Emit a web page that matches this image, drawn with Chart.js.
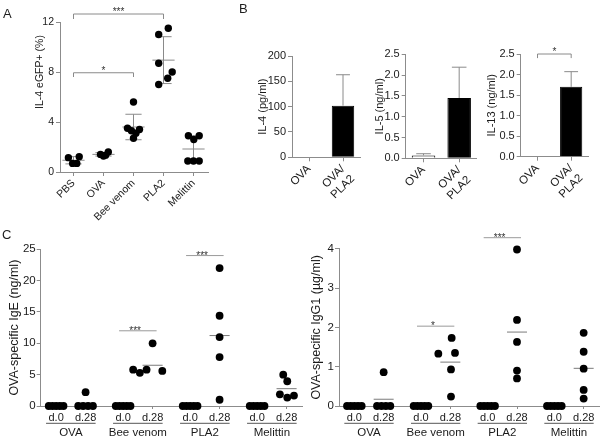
<!DOCTYPE html>
<html><head><meta charset="utf-8">
<script src="https://cdn.jsdelivr.net/npm/chart.js@4.4.1/dist/chart.umd.min.js"></script>
<style>
html,body{margin:0;padding:0;background:#fff;}
#wrap{position:relative;width:604px;height:439px;overflow:hidden;background:#fff;}
#wrap canvas{position:absolute;left:0;top:0;}
.pl{position:absolute;font-family:'Liberation Sans',Arial,sans-serif;font-size:13px;line-height:13px;color:#1e1e1e;}
</style></head>
<body><div id="wrap">
<canvas id="cA" width="604" height="439"></canvas>
<canvas id="cB1" width="604" height="439"></canvas>
<canvas id="cB2" width="604" height="439"></canvas>
<canvas id="cB3" width="604" height="439"></canvas>
<canvas id="cC1" width="604" height="439"></canvas>
<canvas id="cC2" width="604" height="439"></canvas>
<div class="pl" style="left:3px;top:7px">A</div>
<div class="pl" style="left:239px;top:2px">B</div>
<div class="pl" style="left:2px;top:228px">C</div>
</div>
<script>
// ---------------- DATA ----------------
// Panel A
const catA = ['PBS', 'OVA', 'Bee venom', 'PLA2', 'Melittin'];
const valsA = [
  [1.15, 1.23, 0.69, 0.69],
  [1.41, 1.28, 1.35, 1.60],
  [5.6, 3.5, 3.4, 3.3, 3.1, 2.7],
  [11.0, 11.5, 8.7, 8.0, 7.5, 7.0],
  [2.9, 2.9, 2.6, 0.88, 0.88, 0.88]
];
const jitA = [
  [-0.17, 0.19, -0.03, 0.11],
  [-0.10, 0.00, 0.07, 0.16],
  [0.00, -0.20, 0.20, -0.07, 0.08, 0.00],
  [-0.16, 0.16, -0.16, 0.29, 0.14, -0.16],
  [-0.17, 0.19, 0.01, -0.19, 0.00, 0.19]
];
const sigA = [
  {from: 0, to: 3, y: 12.64, drop: 0.4, label: '***'},
  {from: 0, to: 2, y: 7.94, drop: 0.34, label: '*'}
];
// Panel B
const catB = ['OVA', ['OVA/', 'PLA2']];
const il4Mean = [0, 102];
const il4SD = [0, 61];
const il5Mean = [0.07, 1.45];
const il5SD = [0.04, 0.74];
const il13Mean = [0, 1.70];
const il13SD = [0, 0.37];
const sigB13 = {from: 0, to: 1, y: 2.5, drop: 0.1, label: '*'};
// Panel C
const groupsC = ['OVA', 'Bee venom', 'PLA2', 'Melittin'];
const daysC = ['d.0', 'd.28'];
const jit0C = [-0.11, -0.055, 0, 0.055, 0.11];
const igE_d0 = [[0,0,0,0,0],[0,0,0,0,0],[0,0,0,0,0],[0,0,0,0,0]];
const igE_d28 = [
  [2.2, 0, 0, 0, 0],
  [10.0, 5.8, 5.3, 5.8, 5.6],
  [22.0, 14.4, 11.0, 7.8, 1.0],
  [5.0, 3.95, 1.87, 1.34, 1.66]
];
const igE_jit28 = [
  [0, -0.11, -0.037, 0.037, 0.11],
  [0, -0.29, -0.19, -0.09, 0.145],
  [0, 0, 0, 0, 0],
  [-0.05, 0.01, -0.10, 0.01, 0.11]
];
const sigCE = [{g: 1, y: 12.0, label: '***'}, {g: 2, y: 24.0, label: '***'}];
const igG_d0 = [[0,0,0,0,0],[0,0,0,0,0],[0,0,0,0,0],[0,0,0,0,0]];
const igG_d28 = [
  [0.86, 0, 0, 0, 0],
  [1.73, 1.33, 1.35, 0.93, 0.24],
  [3.98, 2.19, 1.63, 0.90, 0.70],
  [1.86, 1.38, 0.95, 0.41, 0.19]
];
const igG_jit28 = [
  [0, -0.10, -0.033, 0.033, 0.10],
  [0.02, -0.18, 0.07, 0.01, 0.01],
  [0, 0, 0, 0, 0],
  [0, 0, 0, 0, 0]
];
const sigCG = [{g: 1, y: 2.03, label: '*'}, {g: 2, y: 4.28, label: '***'}];

// ---------------- STYLE / HELPERS ----------------
const W = 604, H = 439;
const AX = '#8c8c8c', LN = '#8a8a8a', TX = '#1a1a1a';
const FONT = "'Liberation Sans', Arial, Helvetica, sans-serif";
const DAY = 0.22;
Chart.defaults.font.family = FONT;
Chart.defaults.font.size = 10;
Chart.defaults.color = TX;
Chart.defaults.animation = false;
Chart.defaults.responsive = false;
Chart.defaults.events = [];
Chart.defaults.plugins.legend.display = false;
Chart.defaults.plugins.tooltip.enabled = false;

function frame(a, yw, xh) {
  return {padding: {left: a.l - yw, top: a.t, right: W - a.r, bottom: H - a.b - xh}};
}
function gridOpts(len) { return {drawOnChartArea: false, drawTicks: true, tickLength: len, color: AX, lineWidth: 1}; }
function borderOpts() { return {display: true, color: AX, width: 1}; }
function mean(a) { return a.reduce((s, v) => s + v, 0) / a.length; }
function sd(a) { const m = mean(a); return Math.sqrt(a.reduce((s, v) => s + (v - m) * (v - m), 0) / (a.length - 1)); }
function seg(ctx, x0, y0, x1, y1) { ctx.beginPath(); ctx.moveTo(x0, y0); ctx.lineTo(x1, y1); ctx.stroke(); }
function starText(ctx, x, y, label) {
  ctx.save(); ctx.fillStyle = '#333'; ctx.font = '10px ' + FONT;
  ctx.textAlign = 'center'; ctx.textBaseline = 'alphabetic'; ctx.fillText(label, x, y); ctx.restore();
}

// ---------------- PANEL A ----------------
const ptsA = [];
valsA.forEach((arr, i) => arr.forEach((v, j) => ptsA.push({x: i + jitA[i][j], y: v})));
const plugA = {
  id: 'plugA',
  beforeDatasetsDraw(chart) {
    const ctx = chart.ctx, x = chart.scales.x, y = chart.scales.y;
    ctx.save(); ctx.strokeStyle = LN; ctx.lineWidth = 1;
    valsA.forEach((arr, i) => {
      const m = mean(arr), s = sd(arr), cx = x.getPixelForValue(i);
      const hw = x.getPixelForValue(i + 0.37) - cx, cw = x.getPixelForValue(i + 0.27) - cx;
      const yT = y.getPixelForValue(m + s), yB = y.getPixelForValue(m - s), yM = y.getPixelForValue(m);
      seg(ctx, cx, yT, cx, yB); seg(ctx, cx - cw, yT, cx + cw, yT); seg(ctx, cx - cw, yB, cx + cw, yB);
      seg(ctx, cx - hw, yM, cx + hw, yM);
    });
    ctx.restore();
  },
  afterDraw(chart) {
    const ctx = chart.ctx, x = chart.scales.x, y = chart.scales.y;
    ctx.save(); ctx.strokeStyle = LN; ctx.lineWidth = 1;
    sigA.forEach(b => {
      const x0 = x.getPixelForValue(b.from), x1 = x.getPixelForValue(b.to);
      const yy = y.getPixelForValue(b.y), yd = y.getPixelForValue(b.y - b.drop);
      ctx.beginPath(); ctx.moveTo(x0, yd); ctx.lineTo(x0, yy); ctx.lineTo(x1, yy); ctx.lineTo(x1, yd); ctx.stroke();
      starText(ctx, (x0 + x1) / 2, yy + 1, b.label);
    });
    ctx.translate(chart.chartArea.left - 20, y.getPixelForValue(8));
    ctx.rotate(-Math.PI / 2);
    ctx.font = '10.5px ' + FONT; ctx.fillStyle = TX; ctx.textAlign = 'center'; ctx.textBaseline = 'middle';
    ctx.fillText('IL-4 eGFP+ (%)', 0, 0);
    ctx.restore();
  }
};
new Chart(document.getElementById('cA'), {
  type: 'scatter',
  data: {datasets: [{data: ptsA, pointRadius: 3.7, pointHoverRadius: 3.7, pointBackgroundColor: '#000', pointBorderWidth: 0, clip: false}]},
  options: {
    layout: frame({l: 60, t: 22, r: 208.5, b: 172}, 26, 60),
    scales: {
      x: {type: 'linear', min: -0.45, max: 4.5,
        afterBuildTicks: s => { s.ticks = catA.map((c, i) => ({value: i})); },
        afterFit: s => { s.height = 60; },
        ticks: {autoSkip: false, minRotation: 45, maxRotation: 45, padding: 1, font: {size: 10.5}, callback: (v, i) => catA[i]},
        grid: gridOpts(4), border: borderOpts()},
      y: {min: 0, max: 12, afterFit: s => { s.width = 26; },
        ticks: {stepSize: 4, padding: 2, font: {size: 10.5}},
        grid: gridOpts(4), border: borderOpts()}
    }
  },
  plugins: [plugA]
});

// ---------------- PANEL B ----------------
function makeBar(id, area, yw, title, means, sds, yMax, step, dec, sig) {
  const plug = {
    id: 'err' + id,
    afterDatasetsDraw(chart) {
      const ctx = chart.ctx, x = chart.scales.x, y = chart.scales.y, meta = chart.getDatasetMeta(0);
      ctx.save(); ctx.strokeStyle = LN; ctx.lineWidth = 1;
      meta.data.forEach((bar, i) => {
        if (!sds[i]) return;
        const y0 = y.getPixelForValue(means[i]), y1 = y.getPixelForValue(means[i] + sds[i]);
        const cw = bar.width * 0.31;
        seg(ctx, bar.x, y0, bar.x, y1); seg(ctx, bar.x - cw, y1, bar.x + cw, y1);
      });
      if (sig) {
        const x0 = x.getPixelForValue(sig.from), x1 = x.getPixelForValue(sig.to);
        const yy = y.getPixelForValue(sig.y), yd = y.getPixelForValue(sig.y - sig.drop);
        ctx.beginPath(); ctx.moveTo(x0, yd); ctx.lineTo(x0, yy); ctx.lineTo(x1, yy); ctx.lineTo(x1, yd); ctx.stroke();
        starText(ctx, (x0 + x1) / 2, yy + 1, sig.label);
      }
      ctx.restore();
    }
  };
  new Chart(document.getElementById(id), {
    type: 'bar',
    data: {labels: catB, datasets: [{data: means, backgroundColor: ['#ffffff', '#000000'], borderColor: '#000', borderWidth: 1,
      barPercentage: 0.66, categoryPercentage: 1, borderSkipped: 'start', clip: false}]},
    options: {
      layout: frame(area, yw, 50),
      scales: {
        x: {offset: true, afterFit: s => { s.height = 50; },
          grid: Object.assign(gridOpts(4), {offset: false}), border: borderOpts(),
          ticks: {autoSkip: false, minRotation: 45, maxRotation: 45, padding: 1, font: {size: 11.5}}},
        y: {min: 0, max: yMax, afterFit: s => { s.width = yw; },
          ticks: {stepSize: step, padding: 2, font: {size: 11}, callback: v => Number(v).toFixed(dec)},
          grid: gridOpts(4), border: borderOpts(),
          title: {display: true, text: title, font: {size: 11}, padding: 0, color: TX}}
      }
    },
    plugins: [plug]
  });
}
makeBar('cB1', {l: 292, t: 56, r: 360, b: 157.3}, 35.9, 'IL-4 (pg/ml)', il4Mean, il4SD, 200, 50, 0, null);
makeBar('cB2', {l: 405.7, t: 54.3, r: 477, b: 158.3}, 32.3, 'IL-5 (ng/ml)', il5Mean, il5SD, 2.5, 0.5, 1, null);
makeBar('cB3', {l: 520.7, t: 54, r: 588, b: 156.7}, 35.3, 'IL-13 (ng/ml)', il13Mean, il13SD, 2.5, 0.5, 1, sigB13);

// ---------------- PANEL C ----------------
function makeDots(id, area, yw, title, d0, d28, jit28, yMax, step, sig) {
  const pts = [];
  groupsC.forEach((g, gi) => {
    d0[gi].forEach((v, j) => pts.push({x: gi - DAY + jit0C[j], y: v}));
    d28[gi].forEach((v, j) => pts.push({x: gi + DAY + jit28[gi][j], y: v}));
  });
  const plug = {
    id: 'dots' + id,
    beforeDatasetsDraw(chart) {
      const ctx = chart.ctx, x = chart.scales.x, y = chart.scales.y;
      ctx.save(); ctx.strokeStyle = '#7a7a7a'; ctx.lineWidth = 1;
      groupsC.forEach((g, gi) => {
        [[d0[gi], gi - DAY], [d28[gi], gi + DAY]].forEach(([arr, cxv]) => {
          const ym = y.getPixelForValue(mean(arr));
          seg(ctx, x.getPixelForValue(cxv - 0.15), ym, x.getPixelForValue(cxv + 0.15), ym);
        });
      });
      ctx.restore();
    },
    afterDraw(chart) {
      const ctx = chart.ctx, x = chart.scales.x, y = chart.scales.y;
      ctx.save(); ctx.lineWidth = 1;
      ctx.strokeStyle = '#9a9a9a';
      sig.forEach(s => {
        const yy = y.getPixelForValue(s.y);
        seg(ctx, x.getPixelForValue(s.g - 0.28), yy, x.getPixelForValue(s.g + 0.28), yy);
        starText(ctx, x.getPixelForValue(s.g - 0.04), yy + 3, s.label);
      });
      ctx.strokeStyle = '#555';
      const yu = x.bottom;
      groupsC.forEach((g, gi) => seg(ctx, x.getPixelForValue(gi - 0.37), yu, x.getPixelForValue(gi + 0.37), yu));
      ctx.restore();
    }
  };
  new Chart(document.getElementById(id), {
    type: 'scatter',
    data: {datasets: [{data: pts, pointRadius: 3.9, pointHoverRadius: 3.9, pointBackgroundColor: '#000', pointBorderWidth: 0, clip: false}]},
    options: {
      layout: frame(area, yw, 31.3),
      scales: {
        x: {type: 'linear', axis: 'x', position: 'bottom', weight: 1, min: -0.45, max: 3.45,
          afterBuildTicks: s => { s.ticks = groupsC.flatMap((g, gi) => [{value: gi - DAY}, {value: gi + DAY}]); },
          afterFit: s => { s.height = 17.3; },
          ticks: {autoSkip: false, minRotation: 0, maxRotation: 0, padding: 2.5, font: {size: 11}, callback: (v, i) => daysC[i % 2]},
          grid: gridOpts(3), border: borderOpts()},
        x2: {type: 'linear', axis: 'x', position: 'bottom', weight: 2, min: -0.45, max: 3.45,
          afterBuildTicks: s => { s.ticks = groupsC.map((g, gi) => ({value: gi})); },
          afterFit: s => { s.height = 14; },
          ticks: {autoSkip: false, minRotation: 0, maxRotation: 0, padding: 2.6, font: {size: 11.5}, callback: (v, i) => groupsC[i]},
          grid: {display: false, drawTicks: false}, border: {display: false}},
        y: {min: 0, max: yMax, afterFit: s => { s.width = yw; },
          ticks: {stepSize: step, padding: 1, font: {size: 11.5}},
          grid: gridOpts(4), border: borderOpts(),
          title: {display: true, text: title, font: {size: 12.5}, padding: 0, color: TX}}
      }
    },
    plugins: [plug]
  });
}
makeDots('cC1', {l: 40.7, t: 249.3, r: 302, b: 406}, 33.5, 'OVA-specific IgE (ng/ml)', igE_d0, igE_d28, igE_jit28, 25, 5, sigCE);
makeDots('cC2', {l: 339, t: 248.7, r: 599, b: 406}, 30.1, 'OVA-specific IgG1 (µg/ml)', igG_d0, igG_d28, igG_jit28, 4, 1, sigCG);
</script>
</body></html>
